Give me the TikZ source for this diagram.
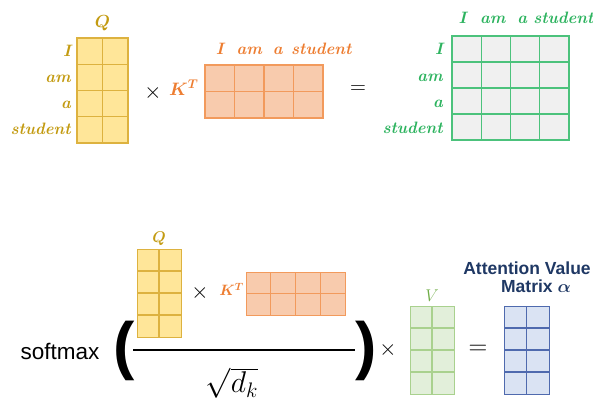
\RequirePackage{fix-cm}
\documentclass[tikz,border=0pt]{standalone}
\usepackage{amsmath}
\usepackage{fontspec}
\setsansfont{Liberation Sans}
\usetikzlibrary{positioning,calc}

\definecolor{qfill}{HTML}{FFE699}
\definecolor{qline}{HTML}{DDB23F}
\definecolor{qtext}{HTML}{C39B12}
\definecolor{kfill}{HTML}{F8CBAD}
\definecolor{kline}{HTML}{F29A5C}
\definecolor{ktext}{HTML}{ED7D31}
\definecolor{sfill}{HTML}{F0F0F0}
\definecolor{sline}{HTML}{4CC27C}
\definecolor{stext}{HTML}{2DB35F}
\definecolor{vfill}{HTML}{E2EFDA}
\definecolor{vline}{HTML}{A9D18E}
\definecolor{vtext}{HTML}{70AD47}
\definecolor{afill}{HTML}{DAE3F3}
\definecolor{aline}{HTML}{4F6AAE}
\definecolor{atext}{HTML}{1F3864}

\tikzset{
  mat/.style={draw, line width=1.2pt, inner sep=0pt, outer sep=0pt},
  word/.style={font=\fontsize{16.5}{16.5}\selectfont\bfseries\itshape, inner sep=0pt},
  op/.style={font=\fontsize{22}{22}\selectfont, inner sep=0pt},
  paren/.style={font=\sffamily\fontsize{64}{64}\selectfont, inner sep=0pt},
}

% grid lines inside a matrix node: name, cols, rows, colour
\newcommand{\mgrid}[4]{%
  \pgfmathtruncatemacro\lastc{#2-1}%
  \pgfmathtruncatemacro\lastr{#3-1}%
  \foreach \c in {1,...,\lastc}
    \draw[#4, line width=1.1pt] ($(#1.north west)!\c/#2!(#1.north east)$) -- ($(#1.south west)!\c/#2!(#1.south east)$);
  \foreach \r in {1,...,\lastr}
    \draw[#4, line width=1.1pt] ($(#1.north west)!\r/#3!(#1.south west)$) -- ($(#1.north east)!\r/#3!(#1.south east)$);
}

\begin{document}
\begin{tikzpicture}[x=1pt, y=-1pt]
\useasboundingbox (0,0) rectangle (593,404);

% Q K^T = scores
\node[mat, draw=qline, fill=qfill, minimum width=51pt, minimum height=105pt] (Q) at (102.5,90.5) {};
\mgrid{Q}{2}{4}{qline}
\node[word, text=qtext, above=7pt of Q, font=\fontsize{17.5}{17.5}\selectfont] (Qlab) {$\boldsymbol{Q}$};
\foreach \w [count=\i] in {I,am,a,student}
  \node[word, text=qtext, anchor=base east] (qrow\i) at ($(Q.north west)!{(\i-0.5)/4}!(Q.south west)+(-6,5)$) {\w};

\node[op] (times1) at (153,93) {$\times$};

\node[mat, draw=kline, fill=kfill, minimum width=118pt, minimum height=53pt] (K) at (264,91.5) {};
\mgrid{K}{4}{2}{kline}
\node[text=ktext, left=3pt of K, font=\fontsize{18}{18}\selectfont, yshift=4pt] (Klab) {$\boldsymbol{K^{T}}$};
\foreach \w/\dx [count=\i] in {I/0,am/0,a/-1,student/13}
  \node[word, text=ktext, anchor=base] (kcol\i) at ($(K.north west)!{(\i-0.5)/4}!(K.north east)+(\dx,-10)$) {\w};

\node[op] (eq1) at (358,90) {$=$};

\node[mat, draw=sline, fill=sfill, minimum width=117pt, minimum height=104pt] (S) at (510.5,88) {};
\mgrid{S}{4}{4}{sline}
\foreach \w [count=\i] in {I,am,a,student}
  \node[word, text=stext, anchor=base east] (srow\i) at ($(S.north west)!{(\i-0.5)/4}!(S.south west)+(-9,6)$) {\w};
\foreach \w/\dx [count=\i] in {I/-4,am/-3,a/-3,student/9}
  \node[word, text=stext, anchor=base] (scol\i) at ($(S.north west)!{(\i-0.5)/4}!(S.north east)+(\dx,-12)$) {\w};

% softmax(Q K^T / sqrt(d_k)) V = attention values
\node[font=\sffamily\fontsize{22.5}{22.5}\selectfont, inner sep=0pt] (smax) at (60,351) {softmax};
\node[paren] (lpar) at (124,351) {\bfseries(};

\node[mat, line width=1pt, draw=qline, fill=qfill, minimum width=44pt, minimum height=88pt] (Q2) at (159,293) {};
\mgrid{Q2}{2}{4}{qline}
\node[text=qtext, above=3pt of Q2, inner sep=0pt, font=\fontsize{15.5}{15.5}\selectfont] (Q2lab) {$\boldsymbol{Q}$};
\node[op] (times2) at (200,293) {$\times$};
\node[mat, line width=1pt, draw=kline, fill=kfill, minimum width=99pt, minimum height=43pt] (K2) at (295.5,293.5) {};
\mgrid{K2}{4}{2}{kline}
\node[text=ktext, left=2pt of K2, inner sep=0pt, font=\fontsize{15}{15}\selectfont, yshift=4pt] (K2lab) {$\boldsymbol{K^{T}}$};

\coordinate (fracl) at (133,350);
\coordinate (fracr) at (355,350);
\draw[line width=1.8pt] (fracl) -- (fracr);
\node[font=\fontsize{30}{30}\selectfont, inner sep=0pt] (root) at (232,383) {$\sqrt{d_k}$};

\node[paren] (rpar) at (366,351) {\bfseries)};
\node[op] (times3) at (388,350) {$\times$};

\node[mat, line width=1pt, draw=vline, fill=vfill, minimum width=44pt, minimum height=88pt] (V) at (432,350) {};
\mgrid{V}{2}{4}{vline}
\node[text=vtext, above=4pt of V, inner sep=0pt, font=\fontsize{17}{17}\selectfont] (Vlab) {$V$};

\node[font=\fontsize{26}{26}\selectfont, inner sep=0pt] (eq2) at (478,350) {$=$};

\node[mat, line width=1pt, draw=aline, fill=afill, minimum width=45pt, minimum height=88pt] (A) at (526.5,350) {};
\mgrid{A}{2}{4}{aline}
\node[text=atext, font=\sffamily\bfseries\fontsize{17.5}{17.5}\selectfont, inner sep=0pt] (title1) at (527,268) {Attention Value};
\node[text=atext, font=\sffamily\bfseries\fontsize{17.5}{17.5}\selectfont, inner sep=0pt, below=5pt of title1, xshift=9pt] (title2) {Matrix $\boldsymbol{\alpha}$};
\end{tikzpicture}
\end{document}
